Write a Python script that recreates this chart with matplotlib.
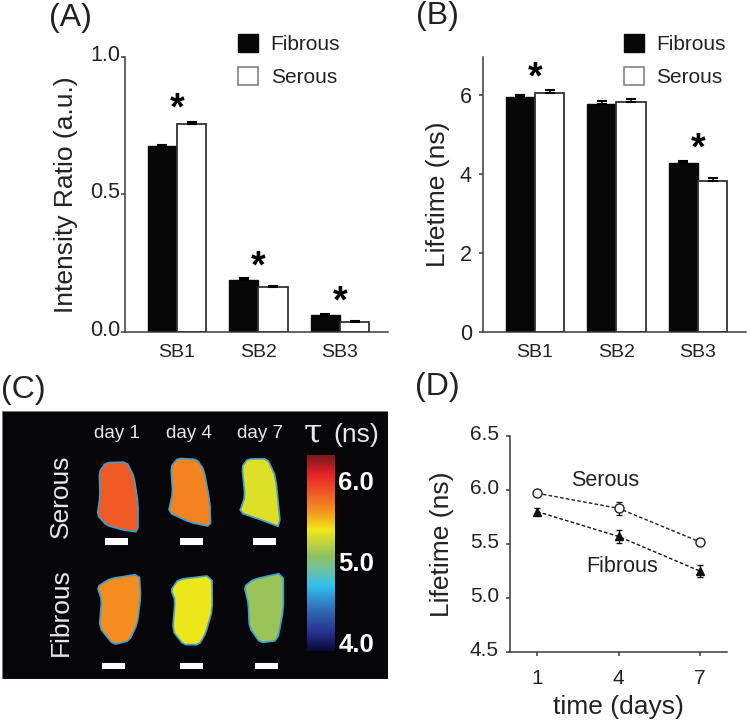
"""Four-panel figure: band ratios, lifetimes, lifetime maps and time course."""
import numpy as np
import matplotlib
matplotlib.use('Agg')
import matplotlib.pyplot as plt
from matplotlib.colors import LinearSegmentedColormap
from matplotlib.patches import Patch, Polygon, Rectangle
from matplotlib.transforms import ScaledTranslation

plt.rcParams['font.family'] = ['Liberation Sans', 'DejaVu Sans']

W, H = 750, 723
INK = '#222222'
AXC = '#3a3a3a'

# data
bands = ['SB1', 'SB2', 'SB3']
ratio_fibrous = [0.677, 0.190, 0.060]
ratio_serous = [0.758, 0.162, 0.035]
ratio_err_fibrous = [0.004, 0.006, 0.004]
ratio_err_serous = [0.004, 0.004, 0.004]
life_fibrous = [5.94, 5.77, 4.28]
life_serous = [6.05, 5.81, 3.83]
life_err_fibrous = [0.06, 0.07, 0.06]
life_err_serous = [0.07, 0.08, 0.06]

days = [1, 4, 7]
course_serous = [5.97, 5.83, 5.52]
course_fibrous = [5.80, 5.57, 5.25]
course_err_serous = [0.01, 0.06, 0.02]
course_err_fibrous = [0.03, 0.06, 0.06]

map_tau_serous = [5.88, 5.72, 5.36]
map_tau_fibrous = [5.68, 5.42, 5.14]
cbar_ticks = [6.0, 5.0, 4.0]
tau_stops = [3.93, 4.15, 4.45, 4.73, 4.94, 5.10, 5.43, 5.67, 6.12, 6.35]
tau_cols = ['#0a0a3c', '#283090', '#3070b8', '#30c0f0', '#70c0a0',
            '#90c060', '#f0e818', '#f59020', '#e8202a', '#7a1a1a']


def px_axes(x0, y0, x1, y1):
    # box given in image pixels, y from top
    return fig.add_axes([x0 / W, 1 - y1 / H, (x1 - x0) / W, (y1 - y0) / H])


def style_axes(ax, fs=15.5, pad=3):
    for sp in ('top', 'right'):
        ax.spines[sp].set_visible(False)
    for sp in ('left', 'bottom'):
        ax.spines[sp].set_linewidth(1.1)
        ax.spines[sp].set_color(AXC)
    ax.tick_params(axis='y', length=3, width=1.1, color=AXC, labelsize=fs,
                   labelcolor=INK, pad=pad)


def lift_yticklabels(ax, px=4):
    # tick labels in the original sit a little above their ticks
    shift = ScaledTranslation(0, px / 100, fig.dpi_scale_trans)
    for lab in ax.get_yticklabels():
        lab.set_transform(lab.get_transform() + shift)


def bar_panel(ax, fib, ser, fib_err, ser_err, ylab, leg_x, pad):
    x = np.arange(len(bands))
    bw = 0.36
    ekw = dict(ecolor='k', elinewidth=1.1, capsize=3.8, capthick=1.5)
    ax.bar(x - bw / 2, fib, bw, color='#080808', edgecolor='#080808', lw=1,
           yerr=[[0] * 3, fib_err], error_kw=ekw, zorder=2)
    ax.bar(x + bw / 2, ser, bw, color='white', edgecolor='#333333', lw=1.3,
           yerr=[[0] * 3, ser_err], error_kw=ekw, zorder=2)
    ax.set_xlim(-0.638, 2.59)
    ax.set_xticks(x)
    ax.set_xticklabels(bands, fontsize=14, color=INK)
    ax.tick_params(axis='x', length=0, pad=9)
    ax.set_ylabel(ylab, fontsize=19, color=INK)
    style_axes(ax, pad=pad)
    handles = [Patch(facecolor='#080808', edgecolor='#080808'),
               Patch(facecolor='white', edgecolor='#777777', lw=1.1)]
    ax.legend(handles, ['Fibrous', 'Serous'], frameon=False, fontsize=15,
              loc='upper left', handlelength=0.96, handleheight=0.96,
              handletextpad=0.6, labelspacing=0.62, borderpad=0, borderaxespad=0,
              labelcolor=INK, bbox_to_anchor=(leg_x, 1.084))


def rounded(pts, rounds=1):
    # corner cutting so the traced outlines are not angular
    p = np.asarray(pts, float)
    for _ in range(rounds):
        q = np.roll(p, -1, axis=0)
        p = np.column_stack([0.85 * p + 0.15 * q, 0.15 * p + 0.85 * q]).reshape(-1, 2)
    return p


fig = plt.figure(figsize=(W / 100, H / 100), dpi=100, facecolor='white')

# (A)
axA = px_axes(125, 57, 388, 332)
bar_panel(axA, ratio_fibrous, ratio_serous, ratio_err_fibrous, ratio_err_serous,
          'Intensity Ratio (a.u.)', 0.43, 0.5)
axA.set_ylim(0, 1.0)
axA.set_yticks([0, 0.5, 1.0])
axA.set_yticklabels(['0.0', '0.5', '1.0'])
lift_yticklabels(axA)
axA.yaxis.set_label_coords(-0.18, 0.5)
for x, y in zip(range(3), [0.808, 0.233, 0.108]):
    axA.text(x, y, '*', fontsize=27, fontweight='bold', ha='center', va='center',
             color='k')

# (B)
axB = px_axes(483, 57, 746, 332)
bar_panel(axB, life_fibrous, life_serous, life_err_fibrous, life_err_serous,
          'Lifetime (ns)', 0.536, 5)
axB.set_ylim(0, 6.96)
axB.set_yticks([0, 2, 4, 6])
axB.yaxis.set_label_coords(-0.125, 0.5)
for x, y in [(0, 6.42), (2, 4.62)]:
    axB.text(x, y, '*', fontsize=27, fontweight='bold', ha='center', va='center',
             color='k')

# (C) lifetime maps, drawn in image pixels
axC = px_axes(2, 411, 388, 679)
axC.set_xlim(2, 388)
axC.set_ylim(679, 411)
axC.axis('off')
axC.add_patch(Rectangle((2, 411), 386, 268, facecolor='#060608', edgecolor='#777777', lw=0.6))

tau_cmap = LinearSegmentedColormap.from_list(
    'tau', [((v - tau_stops[0]) / (tau_stops[-1] - tau_stops[0]), c)
            for v, c in zip(tau_stops, tau_cols)])


def tau_colour(v):
    return tau_cmap((v - tau_stops[0]) / (tau_stops[-1] - tau_stops[0]))


outlines = [
    [(298, 305), (318, 278), (380, 276), (402, 320), (414, 400), (414, 486),
     (370, 480), (320, 466), (292, 435), (300, 380)],
    [(513, 290), (533, 265), (590, 268), (612, 300), (630, 400), (632, 470),
     (570, 457), (505, 427), (518, 370)],
    [(726, 290), (743, 267), (802, 266), (827, 320), (842, 472), (790, 452),
     (718, 427), (735, 380)],
    [(292, 650), (330, 626), (418, 612), (422, 680), (412, 760), (388, 812),
     (340, 824), (298, 772), (305, 690)],
    [(513, 660), (535, 628), (636, 616), (637, 720), (617, 790), (597, 824),
     (550, 824), (518, 782), (525, 690)],
    [(733, 650), (760, 628), (850, 608), (850, 720), (832, 812), (780, 818),
     (748, 772), (745, 700)],
]
for pts, tau in zip(outlines, map_tau_serous + map_tau_fibrous):
    xy = rounded(pts) / 3 + [0, 370]
    axC.add_patch(Polygon(xy, closed=True, facecolor=tau_colour(tau),
                          edgecolor='#3f9fd0', lw=1.2, joinstyle='round'))

for x0, y0 in [(315, 505), (540, 505), (758, 505), (306, 878), (541, 878), (765, 878)]:
    axC.add_patch(Rectangle((x0 / 3, 370 + y0 / 3), 23, 6.5, facecolor='white', edgecolor='none'))

for x, lab in zip([117, 189, 260], ['day 1', 'day 4', 'day 7']):
    axC.text(x, 433, lab, color='#e8e8e8', fontsize=13.5, ha='center', va='center')
axC.text(61, 496, 'Serous', color='#e8e8e8', fontsize=19, rotation=90, ha='center', va='center')
axC.text(61, 612, 'Fibrous', color='#e8e8e8', fontsize=19, rotation=90, ha='center', va='center')
axC.text(313, 434, 'τ', color='#e8e8e8', fontsize=24, family='DejaVu Serif', ha='center', va='center')
axC.text(356, 435, '(ns)', color='#e8e8e8', fontsize=19, ha='center', va='center')

tau_grid = np.linspace(tau_stops[-1], tau_stops[0], 200).reshape(-1, 1)
axC.imshow(tau_grid, cmap=tau_cmap, extent=(307, 335, 651, 455), aspect='auto',
           vmin=tau_stops[0], vmax=tau_stops[-1], zorder=3)
axC.set_xlim(2, 388)
axC.set_ylim(679, 411)
for v in cbar_ticks:
    axC.text(356, 483 + (6.0 - v) * 81, f'{v:.1f}', color='white', fontsize=18.5,
             fontweight='bold', ha='center', va='center')

# (D)
axD = px_axes(510, 436, 727, 652)
axD.errorbar(days, course_serous, yerr=course_err_serous, fmt='o--', color='#222222',
             mfc='white', mec='#222222', ms=6.5, mew=1, lw=1, elinewidth=0.9,
             capsize=2.2, dashes=(2.6, 1.6), zorder=3)
axD.errorbar(days, course_fibrous, yerr=course_err_fibrous, fmt='^--', color='#111111',
             mfc='#111111', mec='#111111', ms=5.5, lw=1, elinewidth=0.9,
             capsize=2.2, dashes=(2.6, 1.6), zorder=3)
axD.set_xlim(0, 8)
axD.set_ylim(4.5, 6.5)
axD.set_xticks(days)
axD.set_yticks([4.5, 5.0, 5.5, 6.0, 6.5])
axD.set_yticklabels(['4.5', '5.0', '5.5', '6.0', '6.5'])
style_axes(axD, fs=15, pad=5)
lift_yticklabels(axD)
axD.tick_params(axis='x', length=3, width=1.1, color=AXC, labelsize=15, labelcolor=INK, pad=9)
axD.set_xlabel('time (days)', fontsize=19, color=INK, labelpad=5)
axD.set_ylabel('Lifetime (ns)', fontsize=19, color=INK)
axD.yaxis.set_label_coords(-0.26, 0.5)
axD.text(3.5, 6.09, 'Serous', fontsize=15.5, color=INK, ha='center', va='center')
axD.text(4.15, 5.29, 'Fibrous', fontsize=15.5, color=INK, ha='center', va='center')

for lab, x, y in [('(A)', 70, 18), ('(B)', 437, 16), ('(C)', 23, 390), ('(D)', 437, 387)]:
    fig.text(x / W, 1 - y / H, lab, fontsize=23, color=INK, ha='center', va='center')

fig.savefig('out.png', dpi=100)
